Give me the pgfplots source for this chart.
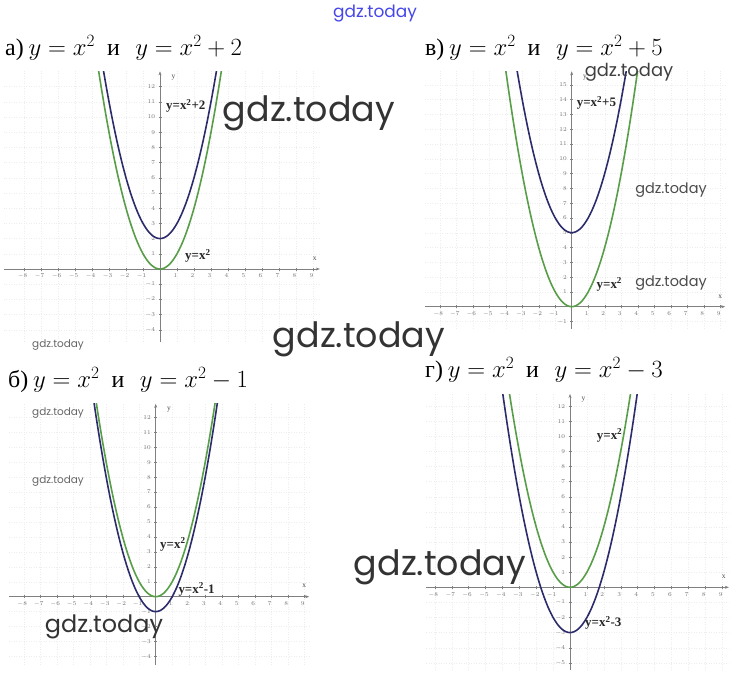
\documentclass[border=0pt]{standalone}
\usepackage{pgfplots}
\usepackage{pgfplotstable}
\pgfplotsset{compat=1.18}
\usetikzlibrary{arrows.meta}
\usepackage{fontspec}
\setmainfont{Liberation Serif}
\newfontfamily\wm{Poppins}
\definecolor{pgreen}{RGB}{88,158,72}
\definecolor{pblue}{RGB}{44,44,108}
\definecolor{wmblue}{RGB}{70,70,235}

\pgfplotstableread{
x p0 p2 p5 m1 m3
-4.25 18.0625 20.0625 23.0625 17.0625 15.0625
-4 16 18 21 15 13
-3.75 14.0625 16.0625 19.0625 13.0625 11.0625
-3.5 12.25 14.25 17.25 11.25 9.25
-3.25 10.5625 12.5625 15.5625 9.5625 7.5625
-3 9 11 14 8 6
-2.75 7.5625 9.5625 12.5625 6.5625 4.5625
-2.5 6.25 8.25 11.25 5.25 3.25
-2.25 5.0625 7.0625 10.0625 4.0625 2.0625
-2 4 6 9 3 1
-1.75 3.0625 5.0625 8.0625 2.0625 0.0625
-1.5 2.25 4.25 7.25 1.25 -0.75
-1.25 1.5625 3.5625 6.5625 0.5625 -1.4375
-1 1 3 6 0 -2
-0.75 0.5625 2.5625 5.5625 -0.4375 -2.4375
-0.5 0.25 2.25 5.25 -0.75 -2.75
-0.25 0.0625 2.0625 5.0625 -0.9375 -2.9375
0 0 2 5 -1 -3
0.25 0.0625 2.0625 5.0625 -0.9375 -2.9375
0.5 0.25 2.25 5.25 -0.75 -2.75
0.75 0.5625 2.5625 5.5625 -0.4375 -2.4375
1 1 3 6 0 -2
1.25 1.5625 3.5625 6.5625 0.5625 -1.4375
1.5 2.25 4.25 7.25 1.25 -0.75
1.75 3.0625 5.0625 8.0625 2.0625 0.0625
2 4 6 9 3 1
2.25 5.0625 7.0625 10.0625 4.0625 2.0625
2.5 6.25 8.25 11.25 5.25 3.25
2.75 7.5625 9.5625 12.5625 6.5625 4.5625
3 9 11 14 8 6
3.25 10.5625 12.5625 15.5625 9.5625 7.5625
3.5 12.25 14.25 17.25 11.25 9.25
3.75 14.0625 16.0625 19.0625 13.0625 11.0625
4 16 18 21 15 13
4.25 18.0625 20.0625 23.0625 17.0625 15.0625
}\parab

\pgfplotsset{
  panel/.style={
    axis lines=middle, anchor=origin, scale only axis,
    clip mode=individual,
    axis line style={black!50, line width=0.5bp, -{Stealth[length=4bp,width=3bp]}},
    tick style={black!50, line width=0.4bp},
    major tick length=3bp,
    tick label style={font=\fontsize{6.5}{7}\selectfont, text=black!55},
    xticklabel style={xshift=-1.5bp},
    grid=major, grid style={dash pattern=on 1bp off 1.5bp, black!7, line width=0.4bp},
    xtick={-8,-7,-6,-5,-4,-3,-2,-1,1,2,3,4,5,6,7,8,9},
  },
}
\tikzset{
  cg/.style={pgreen, line width=1.6bp, smooth},
  cb/.style={pblue, line width=1.6bp, smooth},
  lbl/.style={font=\fontsize{13}{14}\selectfont\bfseries, text=black!85, anchor=base west, inner sep=0pt},
  axl/.style={font=\fontsize{7.5}{8}\selectfont, text=black!70},
  ttl/.style={anchor=base west, inner sep=0pt, font=\fontsize{24}{27}\selectfont},
}
\newcommand{\ttlx}[2]{#1)\hspace{0.2em}$y = x^2$\hspace{0.5em}и\hspace{0.65em}$y = x^2 #2$}

\begin{document}
\begin{tikzpicture}
\path[fill=white, use as bounding box] (0,0) rectangle (747bp,-684bp);

% Titles
\node[ttl] at (5bp,-55bp) {\ttlx{а}{+ 2}};
\node[ttl] at (425bp,-55bp) {\ttlx{в}{+ 5}};
\node[ttl] at (8bp,-387bp) {\ttlx{б}{- 1}};
\node[ttl] at (425bp,-377bp) {\ttlx{г}{- 3}};

% Panel a
\begin{axis}[panel, at={(160bp,-269bp)}, x=17bp, y=15.2bp,
  xmin=-9.2, xmax=9.4, ymin=-4.8, ymax=13,
  ytick={-4,-3,-2,-1,1,2,3,4,5,6,7,8,9,10,11,12}]
\addplot[cg] table[x=x, y=p0] {\parab};
\addplot[cb] table[x=x, y=p2] {\parab};
\node[lbl] at (axis cs:0.35,10.5) {y=x\textsuperscript{2}+2};
\node[lbl] at (axis cs:1.47,0.6) {y=x\textsuperscript{2}};
\node[axl] at (axis cs:0.8,12.6) {y};
\node[axl] at (axis cs:9.1,0.7) {x};
\end{axis}

% Panel v
\begin{axis}[panel, at={(571.7bp,-306.7bp)}, x=16.5bp, y=14.8bp,
  xmin=-8.9, xmax=9.3, ymin=-1.5, ymax=15.9,
  ytick={-1,1,2,3,4,5,6,7,8,9,10,11,12,13,14,15}]
\addplot[cg] table[x=x, y=p0] {\parab};
\addplot[cb] table[x=x, y=p5] {\parab};
\node[lbl] at (axis cs:0.3,13.5) {y=x\textsuperscript{2}+5};
\node[lbl] at (axis cs:1.5,1.25) {y=x\textsuperscript{2}};
\node[axl] at (axis cs:0.8,15.5) {y};
\node[axl] at (axis cs:9.0,0.7) {x};
\end{axis}

% Panel b
\begin{axis}[panel, at={(155.7bp,-596.7bp)}, x=16.5bp, y=14.95bp,
  xmin=-8.9, xmax=9.3, ymin=-4.6, ymax=12.9,
  ytick={-4,-3,-2,-1,1,2,3,4,5,6,7,8,9,10,11,12}]
\addplot[cg] table[x=x, y=p0] {\parab};
\addplot[cb] table[x=x, y=m1] {\parab};
\node[lbl] at (axis cs:0.26,3.24) {y=x\textsuperscript{2}};
\node[lbl] at (axis cs:1.37,0.23) {y=x\textsuperscript{2}-1};
\node[axl] at (axis cs:0.8,12.5) {y};
\node[axl] at (axis cs:9.0,0.7) {x};
\end{axis}

% Panel g
\begin{axis}[panel, at={(570bp,-587.3bp)}, x=16.9bp, y=15.1bp,
  xmin=-8.5, xmax=9.4, ymin=-5.5, ymax=12.8,
  ytick={-5,-4,-3,-2,-1,1,2,3,4,5,6,7,8,9,10,11,12}]
\addplot[cg] table[x=x, y=p0] {\parab};
\addplot[cb] table[x=x, y=m3] {\parab};
\node[lbl] at (axis cs:1.58,9.8) {y=x\textsuperscript{2}};
\node[lbl] at (axis cs:0.89,-2.6) {y=x\textsuperscript{2}-3};
\node[axl] at (axis cs:0.8,12.4) {y};
\node[axl] at (axis cs:9.1,0.7) {x};
\end{axis}

% Watermarks
\node[anchor=base, inner sep=0pt, text=wmblue] at (375bp,-17bp) {\wm\fontsize{17}{18}\selectfont gdz.today};
\node[anchor=base, inner sep=0pt, text=black!80] at (309bp,-121bp) {\wm\fontsize{35}{36}\selectfont gdz.today};
\node[anchor=base, inner sep=0pt, text=black!80] at (359bp,-347bp) {\wm\fontsize{35}{36}\selectfont gdz.today};
\node[anchor=base, inner sep=0pt, text=black!80] at (440bp,-575bp) {\wm\fontsize{35}{36}\selectfont gdz.today};
\node[anchor=base, inner sep=0pt, text=black!80] at (104bp,-632bp) {\wm\fontsize{24}{25}\selectfont gdz.today};
\node[anchor=base, inner sep=0pt, text=black!75] at (629bp,-76bp) {\wm\fontsize{18}{19}\selectfont gdz.today};
\node[anchor=base, inner sep=0pt, text=black!70] at (671bp,-193bp) {\wm\fontsize{14.5}{15}\selectfont gdz.today};
\node[anchor=base, inner sep=0pt, text=black!70] at (671bp,-286bp) {\wm\fontsize{14.5}{15}\selectfont gdz.today};
\node[anchor=base, inner sep=0pt, text=black!60] at (58bp,-347bp) {\wm\fontsize{10.5}{11}\selectfont gdz.today};
\node[anchor=base, inner sep=0pt, text=black!60] at (58bp,-415bp) {\wm\fontsize{10.5}{11}\selectfont gdz.today};
\node[anchor=base, inner sep=0pt, text=black!60] at (58bp,-483bp) {\wm\fontsize{10.5}{11}\selectfont gdz.today};
\end{tikzpicture}
\end{document}
